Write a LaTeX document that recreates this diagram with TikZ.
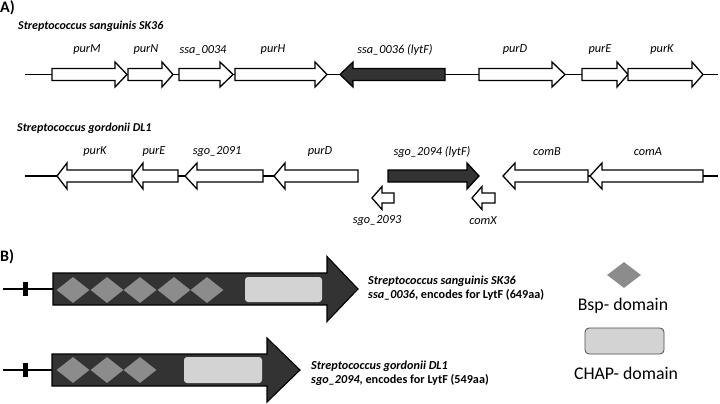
\documentclass[tikz,border=0pt]{standalone}
\usepackage{fontspec}
\setmainfont{Carlito}
\newcommand\genearrow[7]{\draw[#7] (#1,{#4-#5}) -- (#2,{#4-#5}) -- (#2,{#4-#6}) -- (#3,#4) -- (#2,{#4+#6}) -- (#2,{#4+#5}) -- (#1,{#4+#5}) -- cycle;}
\definecolor{darkgene}{HTML}{333333}
\definecolor{bspgray}{HTML}{8C8C8C}
\definecolor{chapgray}{HTML}{D3D3D3}
\tikzset{
  gene/.style={draw=black,line width=1.3pt,fill=white,line join=miter},
  dgene/.style={draw=black,line width=1.3pt,fill=darkgene,line join=miter},
  bigarrow/.style={draw=black,line width=1.1pt,fill=darkgene,line join=miter},
  chrom/.style={line width=1.3pt},
  glabel/.style={font=\fontsize{12.3}{14}\selectfont\itshape,inner sep=0pt},
  species/.style={font=\fontsize{12}{14}\selectfont\bfseries\itshape,inner sep=0pt,anchor=west},
  panel/.style={font=\fontsize{16}{18}\selectfont\bfseries,inner sep=0pt,anchor=north west},
  bsp/.style={diamond,fill=bspgray,inner sep=0pt,minimum width=33pt,minimum height=26pt,draw=none},
  chap/.style={fill=chapgray,rounded corners=3pt},
  legendtext/.style={font=\fontsize{17.8}{20}\selectfont,inner sep=0pt},
  desc/.style={font=\fontsize{12.2}{14.5}\selectfont\bfseries,inner sep=0pt,anchor=west,align=left},
}
\usetikzlibrary{shapes.geometric}
\begin{document}
\begin{tikzpicture}[x=1pt,y=-1pt]
\useasboundingbox (0,0) rectangle (720,404);
% ---------- Panel A ----------
\node[panel] (pA) at (0,0) {A)};
\node[species] (sp1) at (18,26.5) {Streptococcus sanguinis SK36};
\draw[chrom] (25,74.5) -- (718,74.5);
\genearrow{52}{115}{127}{74.5}{6}{12.5}{gene}
\genearrow{128}{162}{173}{74.5}{6}{12.5}{gene}
\genearrow{179}{220}{233}{74.5}{6}{12.5}{gene}
\genearrow{235}{315}{327}{74.5}{6}{12.5}{gene}
\genearrow{445}{353}{340}{74.5}{6}{12.5}{dgene}
\genearrow{479}{552}{565}{74.5}{6}{12.5}{gene}
\genearrow{582}{617}{628}{74.5}{6}{12.5}{gene}
\genearrow{628}{692}{703}{74.5}{6}{12.5}{gene}
\node[glabel] (l1) at (87,50) {purM};
\node[glabel] (l2) at (146,50) {purN};
\node[glabel] (l3) at (203,50) {ssa\_0034};
\node[glabel] (l4) at (273,50) {purH};
\node[glabel] (l5) at (395,50) {ssa\_0036 (lytF)};
\node[glabel] (l6) at (515,50) {purD};
\node[glabel] (l7) at (600,50) {purE};
\node[glabel] (l8) at (662,50) {purK};
% row 2
\node[species] (sp2) at (17,128) {Streptococcus gordonii DL1};
\draw[chrom] (25,176) -- (358,176);
\draw[chrom] (588,176) -- (718,176);
\genearrow{132}{67}{57}{176}{6}{13}{gene}
\genearrow{178}{143}{133}{176}{6}{13}{gene}
\genearrow{263}{197}{185}{176}{6}{13}{gene}
\genearrow{358}{285}{274}{176}{6}{13}{gene}
\genearrow{388}{467}{479}{176}{6}{13}{dgene}
\genearrow{588}{515}{503}{176}{6}{13}{gene}
\genearrow{703}{602}{590}{176}{6}{13}{gene}
\genearrow{394}{382}{372}{198}{5}{11.5}{gene}
\genearrow{495}{482}{472}{198}{5}{11.5}{gene}
\node[glabel] (m1) at (95,152) {purK};
\node[glabel] (m2) at (154,152) {purE};
\node[glabel] (m3) at (217,152) {sgo\_2091};
\node[glabel] (m4) at (320,152) {purD};
\node[glabel] (m5) at (432,152) {sgo\_2094 (lytF)};
\node[glabel] (m6) at (547,152) {comB};
\node[glabel] (m7) at (648,152) {comA};
\node[glabel] (m8) at (377,221) {sgo\_2093};
\node[glabel] (m9) at (483,221) {comX};
% ---------- Panel B ----------
\node[panel] (pB) at (0,249) {B)};
% arrow 1
\draw[chrom] (3,289) -- (53,289);
\fill (23,282) rectangle (28,296);
\genearrow{53}{327}{358}{289}{16}{32.5}{bigarrow}
\foreach \cx in {73,107,140,174,207} \node[bsp] at (\cx,290) {};
\fill[chap] (245,277) rectangle (322,302);
% arrow 2
\draw[chrom] (3,370) -- (52,370);
\fill (23,363) rectangle (28,377);
\genearrow{52}{267}{300}{370}{16}{32}{bigarrow}
\foreach \cx in {73,107,140} \node[bsp] at (\cx,370) {};
\fill[chap] (184,357) rectangle (262,383);
% descriptions
\node[desc] (d1) at (368,288) {\itshape Streptococcus sanguinis SK36\\\itshape ssa\_0036\upshape, encodes for LytF (649aa)};
\node[desc] (d2) at (311,373) {\itshape Streptococcus gordonii DL1\\\itshape sgo\_2094\upshape, encodes for LytF (549aa)};
% legend
\node[bsp,minimum width=34pt,minimum height=26pt] (lb) at (624,275) {};
\node[legendtext] (lbt) at (623,306) {Bsp- domain};
\draw[chap,draw=black!70,line width=0.8pt,rounded corners=4pt] (585,328) rectangle (664,354);
\node[legendtext] (lct) at (626,373) {CHAP- domain};
\end{tikzpicture}
\end{document}
